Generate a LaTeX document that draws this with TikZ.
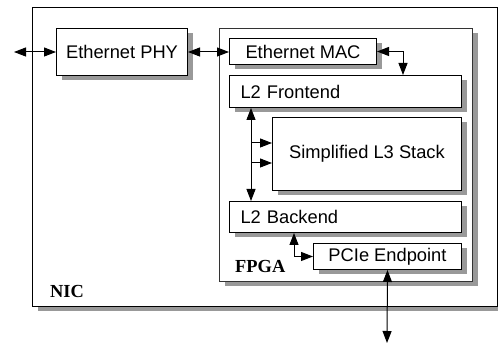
\documentclass[tikz,border=0pt]{standalone}
\usepackage{fontspec}
\setmainfont{Liberation Sans}
\newfontfamily\labelfont{Liberation Serif}
\usetikzlibrary{arrows.meta,shadows}
\begin{document}
\begin{tikzpicture}[x=1pt,y=-1pt,
  shbox/.style={draw=black, line width=1pt, fill=white, anchor=north west, inner sep=0pt,
    font=\fontsize{18.3}{20}\selectfont,
    drop shadow={shadow xshift=5pt, shadow yshift=-5pt, fill=black!40, opacity=1}},
  leftbox/.style={shbox, align=left, inner xsep=11pt},
  arr/.style={line width=1pt, {Triangle[length=12pt,width=9pt]}-{Triangle[length=12pt,width=9pt]}},
  onearr/.style={line width=1pt, -{Triangle[length=12pt,width=9pt]}},
  biglabel/.style={font=\labelfont\bfseries\fontsize{18.4}{20}\selectfont, anchor=base west, inner sep=0pt}
]
\useasboundingbox (0,0) rectangle (498,347);
\node[shbox, minimum width=465pt, minimum height=299pt] (nic) at (32,7) {};
\node[shbox, minimum width=253pt, minimum height=253pt, draw=black!80] (fpga) at (219,28) {};
\node[shbox, minimum width=131pt, minimum height=47pt] (phy) at (56,28) {Ethernet PHY};
\node[shbox, minimum width=147pt, minimum height=26pt] (mac) at (229,38) {Ethernet MAC};
\node[leftbox, text width=210pt, minimum height=32pt] (fe) at (229,75) {L2 Frontend};
\node[shbox, minimum width=189pt, minimum height=73pt] (l3) at (272,117) {Simplified L3 Stack};
\node[leftbox, text width=210pt, minimum height=31pt] (be) at (229,201) {L2 Backend};
\node[shbox, minimum width=148pt, minimum height=26pt] (pcie) at (313,243) {PCIe Endpoint};
\node[biglabel] (niclbl) at (50,298) {NIC};
\node[biglabel] (fpgalbl) at (235,273) {FPGA};
\coordinate (ext) at (14,52);
\coordinate (k1) at (403,52);
\coordinate (v) at (251,143);
\coordinate (b1) at (251,143);
\coordinate (b2) at (251,163);
\coordinate (k2) at (294,259);
\coordinate (bot) at (387,343);
\draw[arr] (ext) -- (phy.west);
\draw[arr] (phy.east) -- (phy.east -| mac.west);
\draw[arr] (mac.east) -| (fe.north -| k1);
\draw[arr] (fe.south -| v) -- (be.north -| v);
\draw[onearr] (b1) -- (b1 -| l3.west);
\draw[onearr] (b2) -- (b2 -| l3.west);
\draw[arr] (be.south -| k2) |- (pcie.west);
\draw[arr] (pcie.south) -- (bot);
\end{tikzpicture}
\end{document}
